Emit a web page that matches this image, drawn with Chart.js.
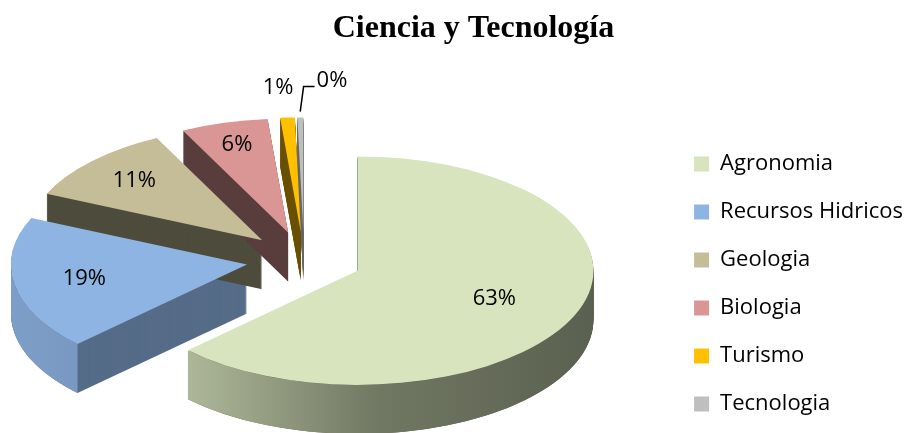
<!DOCTYPE html>
<html>
<head>
<meta charset="utf-8">
<script src="https://cdn.jsdelivr.net/npm/chart.js@4.4.1/dist/chart.umd.min.js"></script>
<style>
  html, body { margin: 0; padding: 0; background: #ffffff; }
</style>
</head>
<body>
<canvas id="chart" width="906" height="433"></canvas>
<script>
const categories = ['Agronomia', 'Recursos Hidricos', 'Geologia', 'Biologia', 'Turismo', 'Tecnologia'];
const shares = [63, 19, 11, 6, 1, 0.4];
const sliceColors = ['#D7E4BD', '#8EB4E3', '#C4BD97', '#D99694', '#FFC000', '#BFBFBF'];
// darkness of the cut faces, and how far out each % label sits (in radii)
const edgeShade = [0.42, 0.6, 0.4, 0.41, 0.42, 0.55];
const labelDistance = [0.63, 0.7, 0.75, 0.8, 1.26, 1.05];

function shade(hex, k) {
    const n = parseInt(hex.slice(1), 16);
    const r = Math.round(((n >> 16) & 255) * k);
    const g = Math.round(((n >> 8) & 255) * k);
    const b = Math.round((n & 255) * k);
    return 'rgb(' + r + ',' + g + ',' + b + ')';
}

/* fake 3D: squash the pie into an ellipse, explode the slices, extrude them */
const pie3d = {
    id: 'pie3d',
    beforeDatasetDraw(chart, args, opts) {
        const ctx = chart.ctx;
        const arcs = args.meta.data;
        if (!arcs.length) return;
        const cx = arcs[0].x;
        const cy = arcs[0].y;
        const R = arcs[0].outerRadius;
        const view = {
            cx: cx,
            cy: cy,
            tx: cx + opts.shiftX,
            ty: cy + opts.shiftY,
            sx: opts.stretch,
            sy: opts.tilt,
            D: opts.explode,
        };
        chart.$pie3d = view;
        const project = () => {
            ctx.translate(view.tx, view.ty);
            ctx.scale(view.sx, view.sy);
            ctx.translate(-cx, -cy);
        };
        const toScreen = (px, py) => [view.tx + (px - cx) * view.sx, view.ty + (py - cy) * view.sy];
        const left = view.tx - (R + view.D) * view.sx;
        const right = view.tx + (R + view.D) * view.sx;

        // sides first
        arcs.forEach((a, i) => {
            const mid = (a.startAngle + a.endAngle) / 2;
            const ox = a.x + Math.cos(mid) * view.D;
            const oy = a.y + Math.sin(mid) * view.D;
            ctx.fillStyle = shade(sliceColors[i], edgeShade[i]);
            for (let d = opts.depth; d > 0; d--) {
                ctx.save();
                ctx.translate(0, d);
                project();
                ctx.beginPath();
                ctx.moveTo(ox, oy);
                ctx.arc(ox, oy, a.outerRadius, a.startAngle, a.endAngle);
                ctx.closePath();
                ctx.fill();
                ctx.restore();
            }
            // outer curved wall, only the part facing us
            const s = Math.max(a.startAngle, 0);
            const e = Math.min(a.endAngle, Math.PI);
            if (e > s) {
                const grad = ctx.createLinearGradient(left, 0, right, 0);
                grad.addColorStop(0, shade(sliceColors[i], 0.88));
                grad.addColorStop(0.31, shade(sliceColors[i], 0.8));
                grad.addColorStop(0.63, shade(sliceColors[i], 0.52));
                grad.addColorStop(1, shade(sliceColors[i], 0.42));
                const n = 64;
                ctx.beginPath();
                for (let k = 0; k <= n; k++) {
                    const t = s + ((e - s) * k) / n;
                    const p = toScreen(ox + Math.cos(t) * a.outerRadius, oy + Math.sin(t) * a.outerRadius);
                    if (k === 0) ctx.moveTo(p[0], p[1]);
                    else ctx.lineTo(p[0], p[1]);
                }
                for (let k = n; k >= 0; k--) {
                    const t = s + ((e - s) * k) / n;
                    const p = toScreen(ox + Math.cos(t) * a.outerRadius, oy + Math.sin(t) * a.outerRadius);
                    ctx.lineTo(p[0], p[1] + opts.depth);
                }
                ctx.closePath();
                ctx.fillStyle = grad;
                ctx.fill();
            }
        });

        // top faces, drawn by the arc elements themselves
        arcs.forEach((a) => {
            const mid = (a.startAngle + a.endAngle) / 2;
            ctx.save();
            project();
            ctx.translate(Math.cos(mid) * view.D, Math.sin(mid) * view.D);
            a.draw(ctx);
            ctx.restore();
        });
        return false;
    },
    afterDatasetsDraw(chart, args, opts) {
        const view = chart.$pie3d;
        if (!view) return;
        const ctx = chart.ctx;
        const arcs = chart.getDatasetMeta(0).data;
        const data = chart.data.datasets[0].data;
        const total = data.reduce((s, v) => s + v, 0);
        const toScreen = (px, py) => [view.tx + (px - view.cx) * view.sx, view.ty + (py - view.cy) * view.sy];
        ctx.save();
        ctx.font = "22px 'Open Sans'";
        ctx.fillStyle = '#000000';
        ctx.strokeStyle = '#000000';
        ctx.lineWidth = 1.5;
        ctx.textBaseline = 'middle';
        arcs.forEach((a, i) => {
            const mid = (a.startAngle + a.endAngle) / 2;
            const ox = a.x + Math.cos(mid) * view.D;
            const oy = a.y + Math.sin(mid) * view.D;
            const text = Math.round((data[i] / total) * 100) + '%';
            const f = labelDistance[i];
            const p = toScreen(ox + Math.cos(mid) * a.outerRadius * f, oy + Math.sin(mid) * a.outerRadius * f);
            if ((data[i] / total) * 100 < 0.5) {
                // tiny slice: leader line and label to the right
                const q = toScreen(ox + Math.cos(mid) * a.outerRadius * 1.27, oy + Math.sin(mid) * a.outerRadius * 1.27);
                const elbow = [q[0] + 4, q[1]];
                ctx.beginPath();
                ctx.moveTo(p[0], p[1]);
                ctx.lineTo(elbow[0], elbow[1]);
                ctx.lineTo(elbow[0] + 11, elbow[1]);
                ctx.stroke();
                ctx.textAlign = 'left';
                ctx.fillText(text, elbow[0] + 13, elbow[1] - 6);
            } else {
                ctx.textAlign = 'center';
                ctx.fillText(text, p[0] - (f > 1 ? 6 : 0), p[1]);
            }
        });
        ctx.restore();
    },
};

new Chart(document.getElementById('chart'), {
    type: 'pie',
    data: {
        labels: categories,
        datasets: [
            {
                data: shares,
                backgroundColor: sliceColors,
                borderWidth: 0,
                hoverOffset: 0,
            },
        ],
    },
    options: {
        responsive: false,
        animation: false,
        events: [],
        layout: {
            padding: { left: 34, right: -7, top: 0, bottom: -8 },
        },
        plugins: {
            pie3d: {
                stretch: 1.26,
                tilt: 0.61,
                explode: 46,
                depth: 49,
                shiftX: -47,
                shiftY: 14,
            },
            title: {
                display: true,
                text: 'Ciencia y Tecnología',
                color: '#000000',
                font: {
                    family: "'Liberation Serif', 'Times New Roman', serif",
                    size: 32,
                    weight: 'bold',
                },
                padding: { top: 10, bottom: 10 },
            },
            legend: {
                display: true,
                position: 'right',
                align: 'end',
                labels: {
                    boxWidth: 15,
                    boxHeight: 15,
                    padding: 26,
                    color: '#000000',
                    font: {
                        family: "'Open Sans', sans-serif",
                        size: 22,
                    },
                },
            },
            tooltip: { enabled: false },
        },
    },
    plugins: [pie3d],
});
</script>
</body>
</html>
